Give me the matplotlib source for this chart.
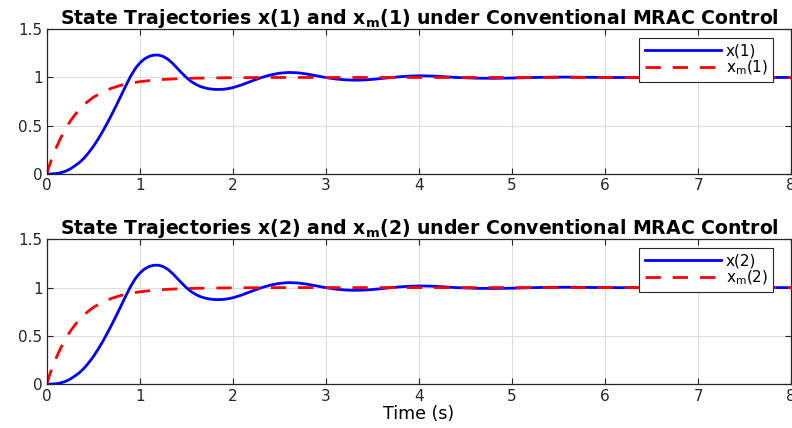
## State trajectories under conventional MRAC

import matplotlib
matplotlib.use('Agg')
import matplotlib.pyplot as plt

## Values
t_x = [0.0, 0.1, 0.15, 0.2, 0.25, 0.3, 0.35, 0.4, 0.45, 0.5, 0.55, 0.6, 0.65, 0.7, 0.75,
       0.8, 0.85, 0.9, 0.95, 1.0, 1.05, 1.1, 1.15, 1.2, 1.25, 1.3, 1.35, 1.4, 1.45, 1.5,
       1.55, 1.6, 1.65, 1.7, 1.75, 1.8, 1.85, 1.9, 1.95, 2.0, 2.1, 2.2, 2.3, 2.4, 2.5,
       2.6, 2.7, 2.8, 2.9, 3.0, 3.1, 3.2, 3.3, 3.4, 3.5, 3.6, 3.7, 3.8, 3.9, 4.0,
       4.1, 4.2, 4.3, 4.4, 4.6, 4.8, 5.0, 5.2, 5.4, 5.6, 5.8, 6.0, 6.5, 7.0, 8.0]
x1 = [0.0, 0.006, 0.015, 0.03, 0.053, 0.085, 0.12, 0.165, 0.222, 0.285, 0.36, 0.44, 0.528, 0.62, 0.716,
      0.815, 0.915, 1.01, 1.09, 1.15, 1.192, 1.218, 1.231, 1.232, 1.218, 1.19, 1.148, 1.098, 1.047, 1.0,
      0.96, 0.93, 0.907, 0.892, 0.882, 0.877, 0.876, 0.878, 0.885, 0.895, 0.925, 0.962, 0.997, 1.025, 1.044,
      1.052, 1.048, 1.035, 1.017, 0.999, 0.985, 0.976, 0.972, 0.974, 0.98, 0.99, 0.999, 1.008, 1.014, 1.017,
      1.016, 1.012, 1.006, 1.0, 0.993, 0.991, 0.994, 0.999, 1.003, 1.004, 1.002, 1.0, 0.999, 1.0, 1.0]
x2 = list(x1)

t_m = [0.0, 0.02, 0.05, 0.1, 0.15, 0.2, 0.25, 0.3, 0.35, 0.4, 0.5, 0.6, 0.7, 0.8, 0.9,
       1.0, 1.2, 1.4, 1.6, 2.0, 2.5, 8.0]
xm1 = [0.0, 0.065, 0.15, 0.27, 0.375, 0.465, 0.545, 0.61, 0.67, 0.72, 0.795, 0.85, 0.89, 0.92, 0.94,
       0.957, 0.977, 0.987, 0.993, 0.998, 1.0, 1.0]
xm2 = list(xm1)

titles = ['State Trajectories x(1) and x$_\\mathbf{m}$(1) under Conventional MRAC Control',
          'State Trajectories x(2) and x$_\\mathbf{m}$(2) under Conventional MRAC Control']
labels = [('x(1)', 'x$_{\\rm m}$(1)'), ('x(2)', 'x$_{\\rm m}$(2)')]

plt.rcParams['font.family'] = ['DejaVu Sans']
plt.rcParams['mathtext.fontset'] = 'dejavusans'

fig = plt.figure(figsize=(7.92, 4.28), dpi=100)
ax1 = fig.add_axes([0.059, 0.593, 0.940, 0.339])
ax2 = fig.add_axes([0.059, 0.102, 0.940, 0.339])

for ax, xs, xms, ttl, lab in [(ax1, x1, xm1, titles[0], labels[0]),
                              (ax2, x2, xm2, titles[1], labels[1])]:
    ax.plot(t_x, xs, color='#0000ff', lw=2, label=lab[0])
    ax.plot(t_m, xms, color='#ff0000', lw=2, dashes=(5.5, 4.3), label=lab[1])
    ax.set_xlim(0, 8)
    ax.set_ylim(0, 1.5)
    ax.set_xticks(range(0, 9))
    ax.set_yticks([0, 0.5, 1, 1.5])
    ax.set_yticklabels(['0', '0.5', '1', '1.5'])
    ax.grid(True, color='#dddddd', lw=0.8)
    ax.set_axisbelow(True)
    ax.tick_params(direction='in', top=True, right=True, labelsize=11, length=4,
                   colors='#262626', pad=3)
    for s in ax.spines.values():
        s.set_color('#262626')
        s.set_linewidth(0.9)
    ax.set_title(ttl, fontsize=13.6, fontweight='bold', pad=4)
    leg = ax.legend(loc='upper right', fontsize=11, fancybox=False, framealpha=1,
                    edgecolor='#262626', handlelength=5.0, handletextpad=0.3,
                    labelspacing=0.0, borderpad=0.35, borderaxespad=0,
                    bbox_to_anchor=(0.976, 0.938))
    leg.get_frame().set_linewidth(0.8)

ax2.set_xlabel('Time (s)', fontsize=12.5, labelpad=1)

plt.savefig('out.png', dpi=100)
